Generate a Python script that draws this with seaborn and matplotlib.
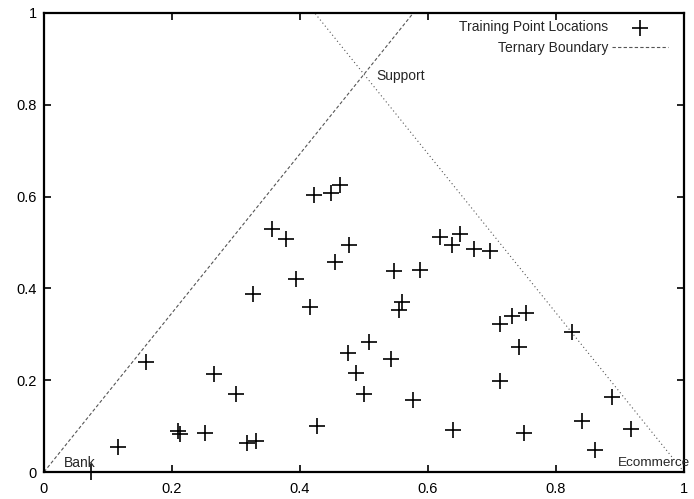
import matplotlib
matplotlib.use("Agg")
import matplotlib.pyplot as plt
import seaborn as sns
import pandas as pd
from matplotlib.ticker import FuncFormatter

# ---- data ----
train_x = [0.073, 0.115, 0.160, 0.209, 0.213, 0.252, 0.265, 0.300, 0.317, 0.332,
           0.326, 0.356, 0.378, 0.394, 0.416, 0.422, 0.427, 0.448, 0.462, 0.454,
           0.477, 0.475, 0.487, 0.500, 0.508, 0.542, 0.547, 0.554, 0.560, 0.576,
           0.588, 0.618, 0.637, 0.650, 0.639, 0.672, 0.697, 0.712, 0.731, 0.753,
           0.742, 0.712, 0.750, 0.825, 0.840, 0.887, 0.861, 0.917]
train_y = [0.000, 0.054, 0.240, 0.090, 0.082, 0.084, 0.213, 0.171, 0.063, 0.068,
           0.388, 0.529, 0.507, 0.420, 0.360, 0.604, 0.100, 0.607, 0.625, 0.457,
           0.495, 0.260, 0.215, 0.171, 0.284, 0.246, 0.438, 0.354, 0.370, 0.157,
           0.440, 0.513, 0.495, 0.519, 0.092, 0.486, 0.482, 0.322, 0.340, 0.346,
           0.273, 0.199, 0.084, 0.304, 0.112, 0.163, 0.049, 0.093]

left_bx = [0.0, 0.577]
left_by = [0.0, 1.0]
right_bx = [1.0, 0.423]
right_by = [0.0, 1.0]

tick_vals = [0, 0.2, 0.4, 0.6, 0.8, 1]
corner_labels = ["Bank", "Support", "Ecommerce"]
corner_x = [0.031, 0.52, 0.896]
corner_y = [0.02, 0.862, 0.02]

# ---- plotting ----
sns.set_style("ticks")
plt.rcParams["font.family"] = ["Liberation Sans", "DejaVu Sans"]

fig = plt.figure(figsize=(6.94, 4.99), dpi=100)
ax = fig.add_axes([44 / 694, 27 / 499, 640 / 694, 459 / 499])

train = pd.DataFrame({"x": train_x, "y": train_y})
sns.scatterplot(data=train, x="x", y="y", marker="+", s=140, color="black",
                linewidth=1.2, label="Training Point Locations", ax=ax,
                clip_on=False, zorder=3)

lb = pd.DataFrame({"x": left_bx, "y": left_by})
rb = pd.DataFrame({"x": right_bx, "y": right_by})
sns.lineplot(data=lb, x="x", y="y", sort=False, color="#555555", linewidth=0.8,
             label="Ternary Boundary", ax=ax)
sns.lineplot(data=rb, x="x", y="y", sort=False, color="#555555", linewidth=0.8,
             ax=ax)
lines = ax.get_lines()
lines[0].set_linestyle((0, (3, 2)))
lines[1].set_linestyle((0, (1, 2.5)))

for t, xx, yy in zip(corner_labels, corner_x, corner_y):
    ax.text(xx, yy, t, fontsize=10 if t != "Ecommerce" else 9.7,
            va="center", ha="left", clip_on=False)

ax.set_xlim(0, 1)
ax.set_ylim(0, 1)
ax.set_xticks(tick_vals)
ax.set_yticks(tick_vals)
fmt = FuncFormatter(lambda v, p: "%g" % v)
ax.xaxis.set_major_formatter(fmt)
ax.yaxis.set_major_formatter(fmt)
ax.set_xlabel("")
ax.set_ylabel("")
ax.tick_params(direction="in", length=5, width=1.2, top=True, right=True,
               labelsize=10.5, colors="black")
ax.tick_params(axis="x", pad=7)
ax.tick_params(axis="y", pad=5)
for s in ax.spines.values():
    s.set_visible(True)
    s.set_linewidth(1.6)
    s.set_color("black")

leg = ax.legend(loc="upper right", bbox_to_anchor=(0.975, 0.984), frameon=False,
                markerfirst=False, fontsize=10, borderpad=0, borderaxespad=0,
                handlelength=4.0, handletextpad=0.3, labelspacing=0.5,
                scatterpoints=1)

fig.savefig("out.png", dpi=100)
